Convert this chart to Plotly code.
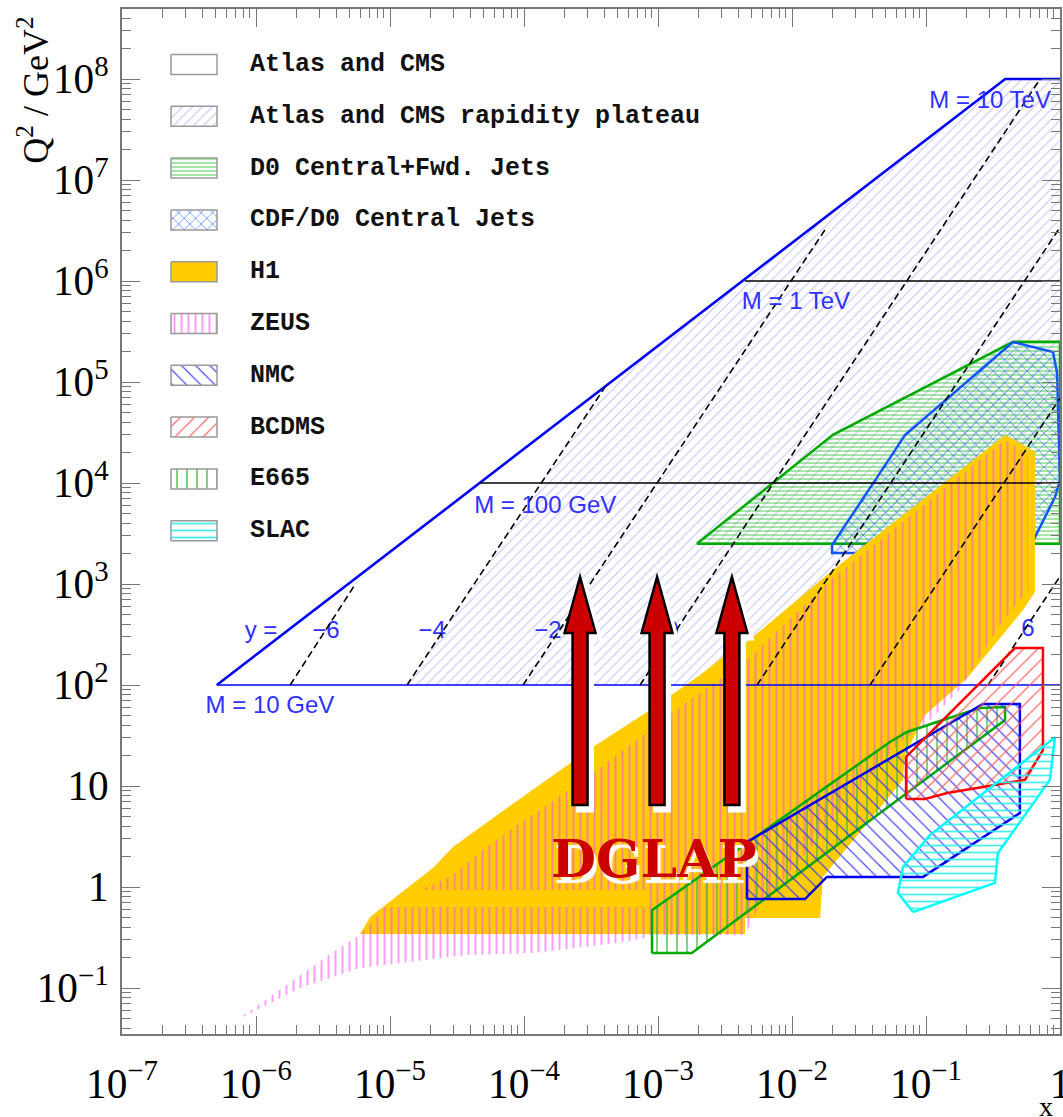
import numpy as np
import plotly.graph_objects as go

# ---------------- data (x, Q^2 in GeV^2) ----------------
atlas_x = [5.1e-7, 0.39, 1.0, 1.0]
atlas_q2 = [100, 1e8, 1e8, 100]

plateau_x = [1.34e-5, 4.02e-4, 0.39, 1.0, 1.0, 3.82e-2]
plateau_q2 = [100, 8.9e4, 1e8, 1e8, 6.9e4, 100]

d0_x = [1.95e-3, 2.02e-2, 0.446, 1.0, 1.0]
d0_q2 = [2.5e3, 3.0e4, 2.5e5, 2.5e5, 2.5e3]

cdf_x = [0.446, 0.887, 0.951, 1.0, 0.918, 0.568, 1.99e-2, 1.99e-2, 4.54e-2, 6.97e-2]
cdf_q2 = [2.49e5, 1.98e5, 1.23e5, 1.07e4, 7.26e3, 2.03e3, 2.03e3, 2.43e3, 1.26e4, 2.99e4]

h1_x = [5.97e-6, 7.10e-6, 2.09e-5, 2.95e-5, 6.62e-5, 1.49e-4, 3.27e-4, 8.28e-4, 2.06e-3,
        3.05e-3, 4.61e-3, 2.02e-2, 0.389, 0.461, 0.650, 0.650, 0.530, 0.202, 9.84e-2,
        6.97e-2, 6.73e-2, 1.70e-2, 1.62e-2, 4.46e-3, 4.46e-3]
h1_q2 = [0.343, 0.505, 1.54, 2.49, 5.41, 11.5, 24.3, 54.1, 126,
         189, 267, 1.38e3, 2.99e4, 2.67e4, 2.03e4, 834, 553, 117, 50.5,
         20.3, 11.5, 1.26, 0.493, 0.493, 0.343]

zeus_low_x = [7.21e-7, 1.80e-6, 3.76e-6, 5.97e-6, 9.18e-6, 8.71e-4, 8.71e-4, 4.94e-4,
              1.17e-4, 3.76e-5, 1.19e-5, 5.97e-6, 2.13e-6, 9.02e-7]
zeus_low_q2 = [0.0482, 0.115, 0.227, 0.335, 0.634, 0.634, 0.320, 0.279,
               0.222, 0.212, 0.177, 0.158, 0.100, 0.0565]

zeus_high_x = [1.67e-5, 2.81e-5, 4.94e-5, 9.33e-5, 1.49e-4, 3.69e-4, 1.46e-3, 4.61e-3,
               2.02e-2, 0.389, 0.577, 0.577, 0.356, 0.179, 9.84e-2, 6.40e-2, 2.71e-2,
               1.15e-2, 5.77e-3, 4.46e-3, 8.71e-4, 8.71e-4]
zeus_high_q2 = [0.933, 1.26, 2.32, 4.31, 6.49, 15.1, 60.5, 177,
                1.15e3, 2.67e4, 1.89e4, 873, 393, 89.1, 40.2, 27.3, 7.26,
                1.85, 0.664, 0.335, 0.335, 0.933]

e665_x = [9.02e-4, 9.02e-4, 5.38e-2, 7.21e-2, 0.134, 0.253, 0.389, 0.389, 1.79e-3]
e665_q2 = [0.222, 0.591, 27.3, 34.3, 45.0, 59.2, 60.5, 45.0, 0.222]

nmc_x = [4.61e-3, 4.61e-3, 0.266, 0.502, 0.502, 9.51e-2, 1.82e-2, 1.25e-2]
nmc_q2 = [0.760, 2.79, 64.9, 64.9, 5.41, 1.26, 1.26, 0.760]

bcdms_x = [7.10e-2, 7.10e-2, 0.461, 0.746, 0.746, 0.548, 0.266, 0.144, 9.84e-2]
bcdms_q2 = [7.43, 19.4, 232, 232, 22.7, 11.5, 9.77, 8.53, 7.43]

slac_x = [8.00e-2, 6.18e-2, 6.73e-2, 0.107, 0.446, 0.918, 0.841, 0.344, 0.327]
slac_q2 = [0.565, 0.873, 1.58, 3.27, 14.4, 30.5, 11.5, 2.17, 1.10]

# constant-rapidity lines (dashed)
rap_x_low = [1.80e-6, 1.34e-5, 9.84e-5, 7.35e-4, 5.48e-3, 3.82e-2, 0.290]
rap_q2_low = [100, 100, 100, 100, 100, 100, 100]
rap_x_high = [5.57e-6, 4.02e-4, 1.82e-2, 0.71, 1.0, 1.0, 1.0]
rap_q2_high = [1.02e3, 8.9e4, 3.43e6, 1e8, 3.4e6, 6.9e4, 1.19e3]

rap_label_text = ["y =", "\u22126", "\u22124", "\u22122", "0", "2", "4", "6"]
rap_label_x = [1.09e-6, 3.33e-6, 2.06e-5, 1.51e-4, 1.27e-3, 9.66e-3, 6.97e-2, 0.577]
rap_label_q2 = [335, 335, 335, 335, 335, 335, 335, 350]

# constant-mass lines
mass_line_x0 = [5.1e-7, 4.70e-5, 4.46e-3]
mass_line_q2 = [1e2, 1e4, 1e6]
mass_line_color = ["#0000FF", "black", "black"]
mass_label_text = ["M = 10 GeV", "M = 100 GeV", "M = 1 TeV", "M = 10 TeV"]
mass_label_x = [1.27e-6, 1.44e-4, 1.07e-2, 0.301]
mass_label_q2 = [60.5, 5.78e3, 6.05e5, 5.92e7]

# DGLAP arrows
arrow_x = [2.62e-4, 9.84e-4, 3.56e-3]
arrow_base_q2 = 6.49

legend_names = ["Atlas and CMS", "Atlas and CMS rapidity plateau", "D0 Central+Fwd. Jets",
                "CDF/D0 Central Jets", "H1", "ZEUS", "NMC", "BCDMS", "E665", "SLAC"]

# ---------------- styles ----------------
def pat(shape, fg, size, solidity, opacity=1.0):
    return dict(shape=shape, fgcolor=fg, bgcolor="rgba(0,0,0,0)", size=size,
                solidity=solidity, fgopacity=opacity, fillmode="replace")

styles = {
    "Atlas and CMS": dict(fillcolor="white", pattern=None),
    "Atlas and CMS rapidity plateau": dict(fillcolor=None, pattern=pat("/", "#A8A8FF", 7, 0.15, 0.7)),
    "D0 Central+Fwd. Jets": dict(fillcolor=None, pattern=pat("-", "#44CC44", 4, 0.3, 0.8)),
    "CDF/D0 Central Jets": dict(fillcolor=None, pattern=pat("x", "#2266FF", 8, 0.16, 0.9)),
    "H1": dict(fillcolor="#FFCC00", pattern=None),
    "ZEUS": dict(fillcolor=None, pattern=pat("|", "#FF44FF", 7, 0.28, 0.55)),
    "NMC": dict(fillcolor=None, pattern=pat("\\", "#3333FF", 10, 0.12, 0.9)),
    "BCDMS": dict(fillcolor=None, pattern=pat("/", "#FF5555", 10, 0.12, 0.9)),
    "E665": dict(fillcolor=None, pattern=pat("|", "#44BB44", 10, 0.15, 0.9)),
    "SLAC": dict(fillcolor=None, pattern=pat("-", "#33EEEE", 7, 0.25, 0.9)),
}

fig = go.Figure()


def region(x, y, name, outline=None, width=2.5):
    st = styles[name]
    kw = dict(x=x, y=y, mode="lines", fill="toself", showlegend=False, hoverinfo="skip",
              line=dict(color=outline if outline else "rgba(0,0,0,0)", width=width if outline else 0))
    if st["pattern"] is not None:
        kw["fillpattern"] = st["pattern"]
        kw["fillcolor"] = "rgba(0,0,0,0)"
    else:
        kw["fillcolor"] = st["fillcolor"]
    fig.add_trace(go.Scatter(**kw))


region(atlas_x + [atlas_x[0]], atlas_q2 + [atlas_q2[0]], "Atlas and CMS")
region(plateau_x + [plateau_x[0]], plateau_q2 + [plateau_q2[0]], "Atlas and CMS rapidity plateau")
region(d0_x + [d0_x[0]], d0_q2 + [d0_q2[0]], "D0 Central+Fwd. Jets", "#00AA00")
region(cdf_x + [cdf_x[0]], cdf_q2 + [cdf_q2[0]], "CDF/D0 Central Jets", "#1155FF")

# rapidity labels (drawn below H1, which hides "2" and "4")
fig.add_trace(go.Scatter(x=rap_label_x, y=rap_label_q2, mode="text", text=rap_label_text,
                         textposition="middle center", showlegend=False, hoverinfo="skip",
                         textfont=dict(family="Liberation Sans", size=24, color="#3030FF")))

region(h1_x, h1_q2, "H1")
region(zeus_low_x + [zeus_low_x[0]], zeus_low_q2 + [zeus_low_q2[0]], "ZEUS")
region(zeus_high_x + [zeus_high_x[0]], zeus_high_q2 + [zeus_high_q2[0]], "ZEUS")

# kinematic limit (thick blue) and M = 10 GeV line (thin blue)
fig.add_trace(go.Scatter(x=atlas_x[:3], y=atlas_q2[:3], mode="lines", showlegend=False,
                         hoverinfo="skip", line=dict(color="#0000FF", width=2.6)))
for x0, q, c in zip(mass_line_x0, mass_line_q2, mass_line_color):
    fig.add_trace(go.Scatter(x=[x0, 1.0], y=[q, q], mode="lines", showlegend=False,
                             hoverinfo="skip", line=dict(color=c, width=1.6)))

for xl, ql, xh, qh in zip(rap_x_low, rap_q2_low, rap_x_high, rap_q2_high):
    fig.add_trace(go.Scatter(x=[xl, xh], y=[ql, qh], mode="lines", showlegend=False,
                             hoverinfo="skip", line=dict(color="black", width=1.6, dash="7px,4px")))

fig.add_trace(go.Scatter(x=mass_label_x, y=mass_label_q2, mode="text", text=mass_label_text,
                         textposition="middle center", showlegend=False, hoverinfo="skip",
                         textfont=dict(family="Liberation Sans", size=24, color="#3030FF")))

region(e665_x + [e665_x[0]], e665_q2 + [e665_q2[0]], "E665", "#00AA00")
region(nmc_x + [nmc_x[0]], nmc_q2 + [nmc_q2[0]], "NMC", "#0000EE")
region(bcdms_x + [bcdms_x[0]], bcdms_q2 + [bcdms_q2[0]], "BCDMS", "#FF0000")
region(slac_x + [slac_x[0]], slac_q2 + [slac_q2[0]], "SLAC", "#00FFFF")

# ---------------- legend (drawn on an overlay axis in plot-area pixel units) ----------------
LEG_TOP, LEG_STEP = 64.5, 51.8
BOX_X0, BOX_X1, BOX_H = 171, 217, 10
annotations = []
for i, name in enumerate(legend_names):
    yc = LEG_TOP + i * LEG_STEP
    st = styles[name]
    kw = dict(x=[BOX_X0, BOX_X1, BOX_X1, BOX_X0, BOX_X0],
              y=[yc - BOX_H, yc - BOX_H, yc + BOX_H, yc + BOX_H, yc - BOX_H],
              xaxis="x2", yaxis="y2", mode="lines", fill="toself", showlegend=False,
              hoverinfo="skip", line=dict(color="#999999", width=1.5))
    if st["pattern"] is not None:
        kw["fillpattern"] = st["pattern"]
        kw["fillcolor"] = "rgba(0,0,0,0)"
    else:
        kw["fillcolor"] = st["fillcolor"]
    fig.add_trace(go.Scatter(**kw))
    annotations.append(dict(x=248, y=yc, xref="x2", yref="y2", text=name, showarrow=False,
                            xanchor="left", yanchor="middle",
                            font=dict(family="Liberation Mono", size=25, color="#111111",
                                      weight="bold")))

# ---------------- arrows ----------------
shaft, head, hb, tip = 7.5, 15.5, 172, 228


def arrow_path(dx=0.0, dy=0.0):
    pts = [(-shaft, 0), (shaft, 0), (shaft, hb), (head, hb), (0, tip), (-head, hb), (-shaft, hb)]
    return "M" + " L".join(f"{px + dx},{py + dy}" for px, py in pts) + " Z"


shapes = []
for ax_ in arrow_x:
    shapes.append(dict(type="path", path=arrow_path(5, -6), xref="x", yref="y",
                       xsizemode="pixel", ysizemode="pixel", xanchor=ax_, yanchor=arrow_base_q2,
                       fillcolor="white", line=dict(color="white", width=3), layer="above"))
    shapes.append(dict(type="path", path=arrow_path(), xref="x", yref="y",
                       xsizemode="pixel", ysizemode="pixel", xanchor=ax_, yanchor=arrow_base_q2,
                       fillcolor="#CC0000", line=dict(color="black", width=2.5), layer="above"))

annotations.append(dict(x=0.567, y=0.171, xref="paper", yref="paper", text="DGLAP", showarrow=False,
                        xanchor="center", yanchor="middle",
                        font=dict(family="DejaVu Serif", size=52, color="#CC0000", weight="bold",
                                  shadow="3px 6px 1px white")))
annotations.append(dict(x=-0.0938, y=0.994, xref="paper", yref="paper",
                        text="Q<sup>2</sup> / GeV<sup>2</sup>", showarrow=False, textangle=-90,
                        xanchor="center", yanchor="top",
                        font=dict(family="Liberation Serif", size=36, color="black")))
annotations.append(dict(x=0.985, y=-0.071, xref="paper", yref="paper", text="x", showarrow=False,
                        xanchor="center", yanchor="middle",
                        font=dict(family="Liberation Serif", size=28, color="black")))

axis_common = dict(type="log", showgrid=False, zeroline=False, showline=True, linecolor="#777777",
                   linewidth=1.5, mirror="ticks", ticks="inside", ticklen=18, tickwidth=1.2,
                   tickcolor="#777777", tickmode="linear", tick0=0, dtick=1, automargin=False,
                   exponentformat="power", showexponent="all", ticklabeloverflow="allow",
                   tickfont=dict(family="Liberation Serif", size=33, color="black"),
                   minor=dict(ticks="inside", ticklen=9, tickwidth=1.1, tickcolor="#777777",
                              dtick="D1", showgrid=False))

fig.update_layout(
    width=1063, height=1117,
    margin=dict(l=122, r=3, t=9, b=83, autoexpand=False),
    paper_bgcolor="white", plot_bgcolor="white",
    showlegend=False,
    xaxis=dict(range=[-7, 0], ticklabelstandoff=14, **axis_common),
    yaxis=dict(range=[-1.455, 8.693], ticklabelstandoff=5, **axis_common),
    xaxis2=dict(overlaying="x", range=[122, 1060], visible=False),
    yaxis2=dict(overlaying="y", range=[1034, 9], visible=False),
    shapes=shapes,
    annotations=annotations,
)

fig.write_html("out.html", config={"displayModeBar": False},
               post_script="document.body.style.margin='0px';document.body.style.overflow='hidden';")
